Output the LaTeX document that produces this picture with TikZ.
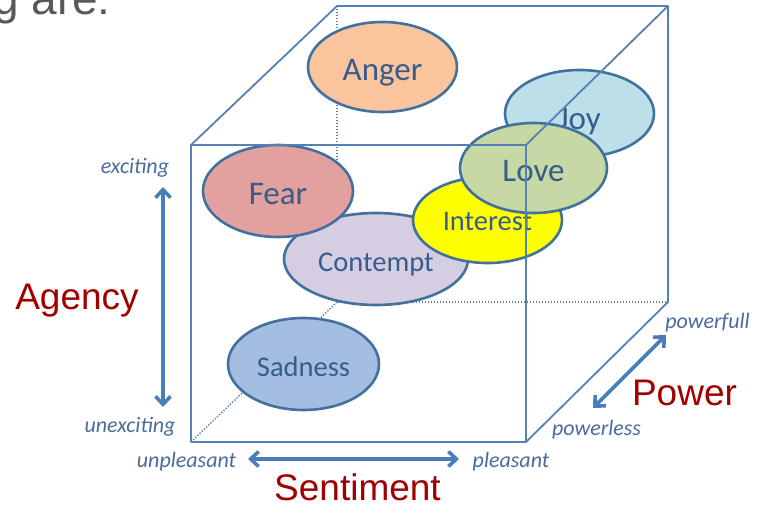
\documentclass[tikz,border=0pt]{standalone}
\usepackage{fontspec}
\setmainfont{Carlito}
\newfontfamily\arialfont{Liberation Sans}
\usetikzlibrary{shapes.geometric,arrows.meta}

\definecolor{cubeblue}{HTML}{5580B4}
\definecolor{edgeblue}{HTML}{41719C}
\definecolor{inkblue}{HTML}{375C8C}
\definecolor{labelblue}{HTML}{4A6C9C}
\definecolor{arrowblue}{HTML}{4A7EBB}
\definecolor{axisred}{HTML}{A00000}
\definecolor{slidegray}{HTML}{595959}
\definecolor{angerfill}{HTML}{FAC59C}
\definecolor{joyfill}{HTML}{BCDFE9}
\definecolor{lovefill}{HTML}{C6D8A3}
\definecolor{interestfill}{HTML}{FFFF00}
\definecolor{fearfill}{HTML}{E2A09E}
\definecolor{contemptfill}{HTML}{D5CDE2}
\definecolor{sadnessfill}{HTML}{A3BEE0}

\begin{document}
\begin{tikzpicture}[x=1pt,y=-1pt,
  emo/.style={ellipse, draw=edgeblue, line width=2.6pt, inner sep=0pt,
    text=inkblue, font=\fontsize{33}{33}\selectfont,
    text height=28pt, text depth=0pt},
  emosmall/.style={emo, font=\fontsize{28.5}{28.5}\selectfont,
    text height=24pt},
  cubeedge/.style={draw=cubeblue, line width=1.8pt, line join=round},
  hiddenedge/.style={draw=cubeblue, line width=1.4pt,
    dash pattern=on 1.4pt off 1.6pt},
  axisarrow/.style={draw=arrowblue, line width=3.6pt,
    {Straight Barb[length=8pt,width=15pt]}-{Straight Barb[length=8pt,width=15pt]}},
  poletext/.style={anchor=base, text=labelblue,
    font=\itshape\fontsize{22}{22}\selectfont},
  axistext/.style={anchor=base, text=axisred,
    font=\arialfont\fontsize{37}{37}\selectfont},
]
\useasboundingbox (0,0) rectangle (763,505);
\clip (0,0) rectangle (763,505);

% heading text running off the top-left corner
\node[anchor=base west, inner sep=0pt, text=slidegray,
  font=\arialfont\fontsize{46}{46}\selectfont] (heading) at (-7,15) {g are:};

% cube corners: front face and back face
\coordinate (ftl) at (191,145);
\coordinate (ftr) at (526,145);
\coordinate (fbr) at (526,442);
\coordinate (fbl) at (191,442);
\coordinate (btl) at (337,6);
\coordinate (btr) at (668,6);
\coordinate (bbr) at (668,302);
\coordinate (bbl) at (337,302);

% hidden edges
\path[hiddenedge] (btl) -- (bbl) -- (bbr);
\path[hiddenedge] (fbl) -- (bbl);

% emotions
\node[emo, fill=angerfill, minimum width=149pt, minimum height=90pt]
  (anger) at (382.5,67) {Anger};
\node[emosmall, fill=sadnessfill, minimum width=151pt, minimum height=92pt]
  (sadness) at (303.5,364) {Sadness};
\node[emosmall, fill=contemptfill, minimum width=184pt, minimum height=92pt]
  (contempt) at (376,259) {Contempt};
\node[emo, fill=fearfill, minimum width=150pt, minimum height=92pt]
  (fear) at (278,191) {Fear};
\node[emo, fill=joyfill, minimum width=149pt, minimum height=87pt,
  text height=32pt] (joy) at (579.5,113.5) {Joy};
\node[emosmall, fill=interestfill, minimum width=149pt, minimum height=86pt,
  text height=21pt] (interest) at (487.5,220) {Interest};
\node[emo, fill=lovefill, minimum width=147pt, minimum height=90pt]
  (love) at (533.5,168) {Love};

% visible edges
\path[cubeedge] (ftl) -- (ftr) -- (fbr) -- (fbl) -- cycle;
\path[cubeedge] (ftl) -- (btl) -- (btr) -- (bbr) -- (fbr);
\path[cubeedge] (ftr) -- (btr);

% agency axis
\coordinate (agtop) at (163,187);
\coordinate (agbot) at (163,407);
\path[axisarrow] (agtop) -- (agbot);
\node[poletext] (exciting) at (135,174) {exciting};
\node[poletext] (unexciting) at (130,432) {unexciting};
\node[axistext] (agency) at (77,309) {Agency};

% sentiment axis
\coordinate (seleft) at (248,459);
\coordinate (seright) at (459,459);
\path[axisarrow] (seleft) -- (seright);
\node[poletext] (unpleasant) at (186.5,467) {unpleasant};
\node[poletext] (pleasant) at (511,467) {pleasant};
\node[axistext] (sentiment) at (357.5,500) {Sentiment};

% power axis
\coordinate (pwlow) at (593,408);
\coordinate (pwhigh) at (666,335);
\path[axisarrow] (pwlow) -- (pwhigh);
\node[poletext] (powerfull) at (707.5,328) {powerfull};
\node[poletext] (powerless) at (596.5,435) {powerless};
\node[axistext] (power) at (684.5,405) {Power};
\end{tikzpicture}
\end{document}
